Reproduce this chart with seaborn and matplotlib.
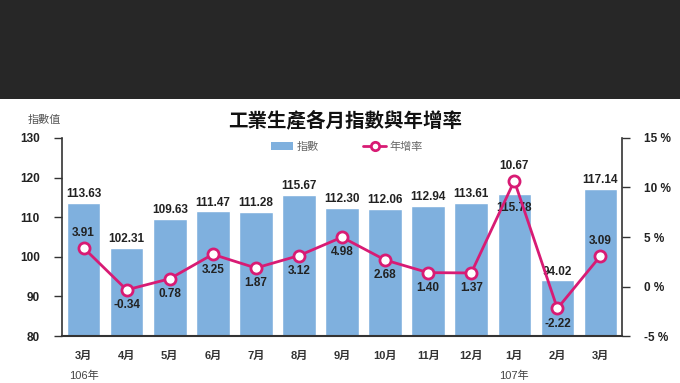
import numpy as np
import pandas as pd
import matplotlib
matplotlib.use("Agg")
import matplotlib.pyplot as plt
import seaborn as sns
from matplotlib.patches import Rectangle
from matplotlib.lines import Line2D

# datos
meses = ["3月", "4月", "5月", "6月", "7月", "8月", "9月", "10月", "11月", "12月", "1月", "2月", "3月"]
indice = [113.63, 102.31, 109.63, 111.47, 111.28, 115.67, 112.30, 112.06, 112.94, 113.61, 115.78, 94.02, 117.14]
crecimiento = [3.91, -0.34, 0.78, 3.25, 1.87, 3.12, 4.98, 2.68, 1.40, 1.37, 10.67, -2.22, 3.09]
# donde va la etiqueta del crecimiento: 1 arriba, -1 abajo
lado = [1, -1, -1, -1, -1, -1, -1, -1, -1, -1, 1, -1, 1]
anios = {0: "106年", 10: "107年"}

sns.set_theme(style="white")
fuente = ["Liberation Sans", "Noto Sans CJK TC", "DejaVu Sans"]
plt.rcParams["font.family"] = fuente

df = pd.DataFrame({"pos": range(len(meses)), "mes": meses, "indice": indice, "crec": crecimiento})

azul = "#7fb0de"
rosa = "#d81b74"

fig = plt.figure(figsize=(6.8, 3.83), dpi=100)
fig.patch.set_facecolor("white")
# franja oscura de arriba
fig.patches.append(Rectangle((0, 0.742), 1, 0.258, transform=fig.transFigure,
                             facecolor="#272727", edgecolor="none", zorder=0))

ax = fig.add_axes([0.0912, 0.1227, 0.8235, 0.517])
sns.barplot(data=df, x="pos", y="indice", color=azul, width=0.78, saturation=1, ax=ax, zorder=2)
ax.set_ylim(80, 130)
ax.set_xlim(-0.5, len(meses) - 0.5)
ax.set_yticks([80, 90, 100, 110, 120, 130])
ax.set_xticks(range(len(meses)))
ax.set_xticklabels(meses, fontsize=8, fontweight="bold", color="#333333")
ax.set_xlabel("")
ax.set_ylabel("")
for lab in ax.get_yticklabels():
    lab.set_fontsize(8.5)
    lab.set_fontweight("bold")
    lab.set_color("#222222")
ax.tick_params(axis="y", direction="out", length=6, width=1, color="#333333", pad=10)
ax.tick_params(axis="x", length=0, pad=11)
for s in ["top", "right"]:
    ax.spines[s].set_visible(False)
ax.spines["left"].set_color("#333333")
ax.spines["bottom"].set_color("#333333")
ax.spines["left"].set_linewidth(1.2)
ax.spines["bottom"].set_linewidth(1.5)

for i, v in enumerate(indice):
    if i == 10:
        ax.annotate(f"{v:.2f}", (i, v), xytext=(0, -10), textcoords="offset points",
                    ha="center", va="center", fontsize=8.5, fontweight="bold", color="#222222", zorder=6)
    else:
        ax.annotate(f"{v:.2f}", (i, v), xytext=(0, 2), textcoords="offset points",
                    ha="center", va="bottom", fontsize=8.5, fontweight="bold", color="#222222")

ax2 = ax.twinx()
sns.lineplot(data=df, x="pos", y="crec", color=rosa, linewidth=2, marker="o", markersize=8,
             markerfacecolor="white", markeredgecolor=rosa, markeredgewidth=2, ax=ax2, zorder=5)
ax2.set_ylim(-5, 15)
ax2.set_yticks([-5, 0, 5, 10, 15])
ax2.set_yticklabels([f"{t} %" for t in [-5, 0, 5, 10, 15]], fontsize=8.5, fontweight="bold", color="#222222")
ax2.set_ylabel("")
ax2.set_xlabel("")
ax2.tick_params(axis="y", direction="out", length=6, width=1, color="#333333", pad=10)
for s in ["top", "left", "bottom"]:
    ax2.spines[s].set_visible(False)
ax2.spines["right"].set_color("#333333")
ax2.spines["right"].set_linewidth(1.2)
ax.set_zorder(1)
ax2.set_zorder(2)

for i, g in enumerate(crecimiento):
    ax2.annotate(f"{g:.2f}", (i, g), xytext=(0, 11 * lado[i]), textcoords="offset points",
                 ha="center", va="center", fontsize=8.5, fontweight="bold", color="#222222")

# año debajo de los meses
for i, a in anios.items():
    ax.text(i, -0.2, a, transform=ax.get_xaxis_transform(), ha="center", va="center",
            fontsize=8, color="#444444")

fig.text(0.508, 0.686, "工業生產各月指數與年增率", ha="center", va="center", fontsize=14,
         fontweight="bold", family=["Noto Sans CJK TC"], color="#111111")
fig.text(0.065, 0.686, "指數值", ha="center", va="center", fontsize=8,
         family=["Noto Sans CJK TC"], color="#555555")

# leyenda
h1 = Rectangle((0, 0), 1, 1, facecolor=azul, edgecolor="none")
h2 = Line2D([], [], color=rosa, linewidth=2, marker="o", markersize=6,
            markerfacecolor="white", markeredgecolor=rosa, markeredgewidth=2)
fig.legend([h1, h2], ["指數", "年增率"], loc="center", bbox_to_anchor=(0.51, 0.617), ncol=2,
           frameon=False, fontsize=8, columnspacing=4, handlelength=2, handletextpad=0.3,
           labelcolor="#666666", prop={"family": ["Noto Sans CJK TC"], "size": 8})

fig.savefig("out.png", dpi=100, facecolor="white")
